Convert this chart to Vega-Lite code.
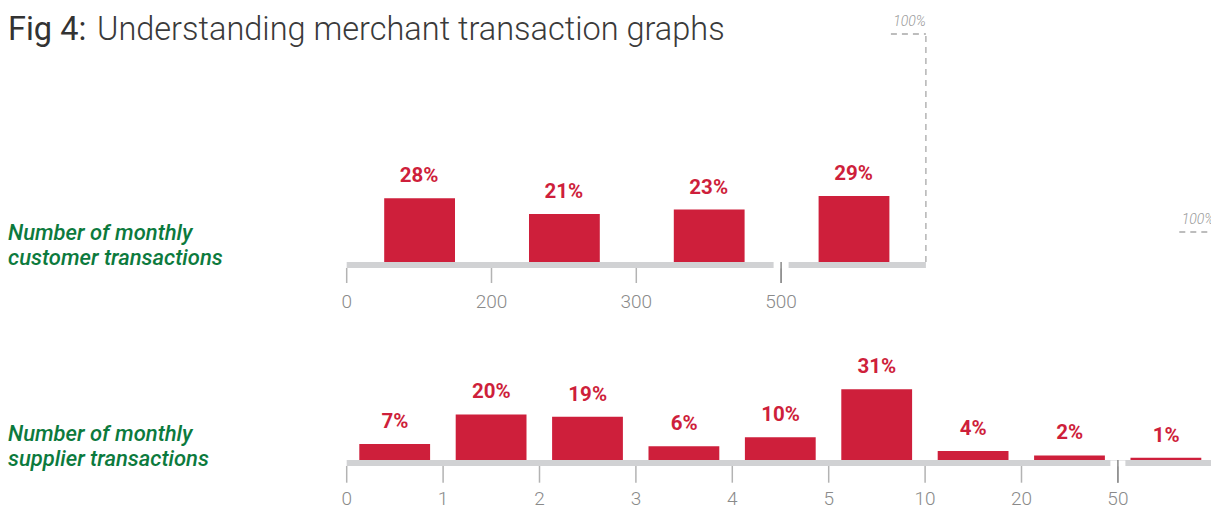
{
  "$schema": "https://vega.github.io/schema/vega-lite/v6.json",
  "width": 1211,
  "height": 509,
  "padding": 0,
  "autosize": {"type": "none"},
  "background": "white",
  "config": {"view": {"stroke": null}, "font": "Roboto"},
  "datasets": {
    "figLabel": [{"text": "Fig 4:"}],
    "figTitle": [{"text": "Understanding merchant transaction graphs"}],
    "customer": [
      {"range": "0-200", "start": 0, "end": 1, "pct": 0.28, "base": 0},
      {"range": "200-300", "start": 1, "end": 2, "pct": 0.21, "base": 0},
      {"range": "300-500", "start": 2, "end": 3, "pct": 0.23, "base": 0},
      {"range": "500+", "start": 3, "end": 4, "pct": 0.29, "base": 0}
    ],
    "customerEdges": [
      {"edge": 0, "label": "0", "base": 0},
      {"edge": 1, "label": "200", "base": 0},
      {"edge": 2, "label": "300", "base": 0},
      {"edge": 3, "label": "500", "base": 0}
    ],
    "customerFrame": [
      {"from": 0, "to": 4, "brk": 3, "base": 0, "full": 1, "name": "Number of monthly\ncustomer transactions"}
    ],
    "supplier": [
      {"range": "0-1", "start": 0, "end": 1, "pct": 0.07, "base": 0},
      {"range": "1-2", "start": 1, "end": 2, "pct": 0.20, "base": 0},
      {"range": "2-3", "start": 2, "end": 3, "pct": 0.19, "base": 0},
      {"range": "3-4", "start": 3, "end": 4, "pct": 0.06, "base": 0},
      {"range": "4-5", "start": 4, "end": 5, "pct": 0.10, "base": 0},
      {"range": "5-10", "start": 5, "end": 6, "pct": 0.31, "base": 0},
      {"range": "10-20", "start": 6, "end": 7, "pct": 0.04, "base": 0},
      {"range": "20-50", "start": 7, "end": 8, "pct": 0.02, "base": 0},
      {"range": "50+", "start": 8, "end": 9, "pct": 0.01, "base": 0}
    ],
    "supplierEdges": [
      {"edge": 0, "label": "0", "base": 0},
      {"edge": 1, "label": "1", "base": 0},
      {"edge": 2, "label": "2", "base": 0},
      {"edge": 3, "label": "3", "base": 0},
      {"edge": 4, "label": "4", "base": 0},
      {"edge": 5, "label": "5", "base": 0},
      {"edge": 6, "label": "10", "base": 0},
      {"edge": 7, "label": "20", "base": 0},
      {"edge": 8, "label": "50", "base": 0}
    ],
    "supplierFrame": [
      {"from": 0, "to": 9, "brk": 8, "base": 0, "full": 1, "name": "Number of monthly\nsupplier transactions"}
    ]
  },
  "layer": [
    {
      "layer": [
        {
          "data": {"name": "figLabel"},
          "mark": {"type": "text", "align": "left", "baseline": "alphabetic", "fontSize": 32.5, "fontWeight": 400, "color": "#333333"},
          "encoding": {
            "x": {"datum": -2.339, "type": "quantitative", "scale": {"domain": [-2.3943, 5.9689], "nice": false, "zero": false}, "axis": null},
            "y": {"datum": 0.9737, "type": "quantitative", "scale": {"domain": [-1.0833, 1.1491], "nice": false, "zero": false}, "axis": null},
            "text": {"field": "text", "type": "nominal"}
          }
        },
        {
          "data": {"name": "figTitle"},
          "mark": {"type": "text", "align": "left", "baseline": "alphabetic", "fontSize": 32.5, "fontWeight": 300, "color": "#3a3a3a"},
          "encoding": {
            "x": {"datum": -1.7244, "type": "quantitative", "scale": {"domain": [-2.3943, 5.9689], "nice": false, "zero": false}, "axis": null},
            "y": {"datum": 0.9737, "type": "quantitative", "scale": {"domain": [-1.0833, 1.1491], "nice": false, "zero": false}, "axis": null},
            "text": {"field": "text", "type": "nominal"}
          }
        },
        {
          "data": {"name": "customerFrame"},
          "mark": {"type": "rule", "color": "#d1d2d4", "strokeWidth": 6, "yOffset": 3, "strokeCap": "butt"},
          "encoding": {
            "x": {"field": "from", "type": "quantitative", "scale": {"domain": [-2.3943, 5.9689], "nice": false, "zero": false}, "axis": null},
            "x2": {"field": "to"},
            "y": {"field": "base", "type": "quantitative", "scale": {"domain": [-1.0833, 1.1491], "nice": false, "zero": false}, "axis": null}
          }
        },
        {
          "data": {"name": "customer"},
          "mark": {"type": "bar", "color": "#ce1f3b", "xOffset": 37.5, "x2Offset": -36.5},
          "encoding": {
            "x": {"field": "start", "type": "quantitative", "scale": {"domain": [-2.3943, 5.9689], "nice": false, "zero": false}, "axis": null},
            "x2": {"field": "end"},
            "y": {"field": "pct", "type": "quantitative", "scale": {"domain": [-1.0833, 1.1491], "nice": false, "zero": false}, "axis": null},
            "y2": {"field": "base"}
          }
        },
        {
          "data": {"name": "customerEdges"},
          "mark": {"type": "rule", "color": "#b3b3b3", "strokeWidth": 1.5, "yOffset": 6, "y2Offset": 21, "strokeCap": "butt"},
          "encoding": {
            "x": {"field": "edge", "type": "quantitative", "scale": {"domain": [-2.3943, 5.9689], "nice": false, "zero": false}, "axis": null},
            "y": {"field": "base", "type": "quantitative", "scale": {"domain": [-1.0833, 1.1491], "nice": false, "zero": false}, "axis": null},
            "y2": {"field": "base"}
          }
        },
        {
          "data": {"name": "customerEdges"},
          "mark": {"type": "text", "align": "center", "baseline": "middle", "dy": 40, "fontSize": 19, "fontWeight": 300, "color": "#8a8a8a"},
          "encoding": {
            "x": {"field": "edge", "type": "quantitative", "scale": {"domain": [-2.3943, 5.9689], "nice": false, "zero": false}, "axis": null},
            "y": {"field": "base", "type": "quantitative", "scale": {"domain": [-1.0833, 1.1491], "nice": false, "zero": false}, "axis": null},
            "text": {"field": "label", "type": "nominal"}
          }
        },
        {
          "data": {"name": "customerFrame"},
          "mark": {"type": "rule", "color": "white", "strokeWidth": 15, "yOffset": -1, "y2Offset": 6.5, "strokeCap": "butt"},
          "encoding": {
            "x": {"field": "brk", "type": "quantitative", "scale": {"domain": [-2.3943, 5.9689], "nice": false, "zero": false}, "axis": null},
            "y": {"field": "base", "type": "quantitative", "scale": {"domain": [-1.0833, 1.1491], "nice": false, "zero": false}, "axis": null},
            "y2": {"field": "base"}
          }
        },
        {
          "data": {"name": "customerFrame"},
          "mark": {"type": "rule", "color": "#8a8a8a", "strokeWidth": 1.5, "yOffset": 0, "y2Offset": 21, "strokeCap": "butt"},
          "encoding": {
            "x": {"field": "brk", "type": "quantitative", "scale": {"domain": [-2.3943, 5.9689], "nice": false, "zero": false}, "axis": null},
            "y": {"field": "base", "type": "quantitative", "scale": {"domain": [-1.0833, 1.1491], "nice": false, "zero": false}, "axis": null},
            "y2": {"field": "base"}
          }
        },
        {
          "data": {"name": "customerFrame"},
          "mark": {"type": "rule", "color": "#a8a8a8", "strokeWidth": 1.3, "strokeDash": [6, 5]},
          "encoding": {
            "x": {"field": "to", "type": "quantitative", "scale": {"domain": [-2.3943, 5.9689], "nice": false, "zero": false}, "axis": null},
            "y": {"field": "base", "type": "quantitative", "scale": {"domain": [-1.0833, 1.1491], "nice": false, "zero": false}, "axis": null},
            "y2": {"field": "full"}
          }
        },
        {
          "data": {"name": "customerFrame"},
          "mark": {"type": "rule", "color": "#a8a8a8", "strokeWidth": 1.3, "strokeDash": [6, 5], "xOffset": -35},
          "encoding": {
            "x": {"field": "to", "type": "quantitative", "scale": {"domain": [-2.3943, 5.9689], "nice": false, "zero": false}, "axis": null},
            "x2": {"field": "to"},
            "y": {"field": "full", "type": "quantitative", "scale": {"domain": [-1.0833, 1.1491], "nice": false, "zero": false}, "axis": null}
          }
        },
        {
          "data": {"name": "customerFrame"},
          "mark": {"type": "text", "align": "right", "baseline": "middle", "dy": -12, "fontStyle": "italic", "fontWeight": 300, "fontSize": 14, "color": "#999999"},
          "encoding": {
            "x": {"field": "to", "type": "quantitative", "scale": {"domain": [-2.3943, 5.9689], "nice": false, "zero": false}, "axis": null},
            "y": {"field": "full", "type": "quantitative", "scale": {"domain": [-1.0833, 1.1491], "nice": false, "zero": false}, "axis": null},
            "text": {"field": "full", "type": "quantitative", "format": ".0%"}
          }
        },
        {
          "data": {"name": "customerFrame"},
          "mark": {"type": "text", "align": "left", "baseline": "alphabetic", "lineBreak": "\n", "lineHeight": 25, "fontStyle": "italic", "fontWeight": 500, "fontSize": 22, "color": "#0c7a3d"},
          "encoding": {
            "x": {"datum": -2.339, "type": "quantitative", "scale": {"domain": [-2.3943, 5.9689], "nice": false, "zero": false}, "axis": null},
            "y": {"datum": 0.0965, "type": "quantitative", "scale": {"domain": [-1.0833, 1.1491], "nice": false, "zero": false}, "axis": null},
            "text": {"field": "name", "type": "nominal"}
          }
        },
        {
          "data": {"name": "customer"},
          "mark": {"type": "text", "align": "center", "baseline": "middle", "dy": -22, "xOffset": 72.4, "fontWeight": "bold", "fontSize": 20.5, "color": "#ce1f3b"},
          "encoding": {
            "x": {"field": "start", "type": "quantitative", "scale": {"domain": [-2.3943, 5.9689], "nice": false, "zero": false}, "axis": null},
            "y": {"field": "pct", "type": "quantitative", "scale": {"domain": [-1.0833, 1.1491], "nice": false, "zero": false}, "axis": null},
            "text": {"field": "pct", "type": "quantitative", "format": ".0%"}
          }
        }
      ]
    },
    {
      "layer": [
        {
          "data": {"name": "supplierFrame"},
          "mark": {"type": "rule", "color": "#d1d2d4", "strokeWidth": 6, "yOffset": 3, "strokeCap": "butt"},
          "encoding": {
            "x": {"field": "from", "type": "quantitative", "scale": {"domain": [-3.5965, 8.9658], "nice": false, "zero": false}, "axis": null},
            "x2": {"field": "to"},
            "y": {"field": "base", "type": "quantitative", "scale": {"domain": [-0.2149, 2.0175], "nice": false, "zero": false}, "axis": null}
          }
        },
        {
          "data": {"name": "supplier"},
          "mark": {"type": "bar", "color": "#ce1f3b", "xOffset": 12.6, "x2Offset": -13},
          "encoding": {
            "x": {"field": "start", "type": "quantitative", "scale": {"domain": [-3.5965, 8.9658], "nice": false, "zero": false}, "axis": null},
            "x2": {"field": "end"},
            "y": {"field": "pct", "type": "quantitative", "scale": {"domain": [-0.2149, 2.0175], "nice": false, "zero": false}, "axis": null},
            "y2": {"field": "base"}
          }
        },
        {
          "data": {"name": "supplierEdges"},
          "mark": {"type": "rule", "color": "#b3b3b3", "strokeWidth": 1.5, "yOffset": 6, "y2Offset": 22.7, "strokeCap": "butt"},
          "encoding": {
            "x": {"field": "edge", "type": "quantitative", "scale": {"domain": [-3.5965, 8.9658], "nice": false, "zero": false}, "axis": null},
            "y": {"field": "base", "type": "quantitative", "scale": {"domain": [-0.2149, 2.0175], "nice": false, "zero": false}, "axis": null},
            "y2": {"field": "base"}
          }
        },
        {
          "data": {"name": "supplierEdges"},
          "mark": {"type": "text", "align": "center", "baseline": "middle", "dy": 38.5, "fontSize": 19, "fontWeight": 300, "color": "#8a8a8a"},
          "encoding": {
            "x": {"field": "edge", "type": "quantitative", "scale": {"domain": [-3.5965, 8.9658], "nice": false, "zero": false}, "axis": null},
            "y": {"field": "base", "type": "quantitative", "scale": {"domain": [-0.2149, 2.0175], "nice": false, "zero": false}, "axis": null},
            "text": {"field": "label", "type": "nominal"}
          }
        },
        {
          "data": {"name": "supplierFrame"},
          "mark": {"type": "rule", "color": "white", "strokeWidth": 15, "yOffset": 0.5, "y2Offset": 6.5, "strokeCap": "butt"},
          "encoding": {
            "x": {"field": "brk", "type": "quantitative", "scale": {"domain": [-3.5965, 8.9658], "nice": false, "zero": false}, "axis": null},
            "y": {"field": "base", "type": "quantitative", "scale": {"domain": [-0.2149, 2.0175], "nice": false, "zero": false}, "axis": null},
            "y2": {"field": "base"}
          }
        },
        {
          "data": {"name": "supplierFrame"},
          "mark": {"type": "rule", "color": "#8a8a8a", "strokeWidth": 1.5, "yOffset": 0, "y2Offset": 22.7, "strokeCap": "butt"},
          "encoding": {
            "x": {"field": "brk", "type": "quantitative", "scale": {"domain": [-3.5965, 8.9658], "nice": false, "zero": false}, "axis": null},
            "y": {"field": "base", "type": "quantitative", "scale": {"domain": [-0.2149, 2.0175], "nice": false, "zero": false}, "axis": null},
            "y2": {"field": "base"}
          }
        },
        {
          "data": {"name": "supplierFrame"},
          "mark": {"type": "rule", "color": "#a8a8a8", "strokeWidth": 1.3, "strokeDash": [6, 5]},
          "encoding": {
            "x": {"field": "to", "type": "quantitative", "scale": {"domain": [-3.5965, 8.9658], "nice": false, "zero": false}, "axis": null},
            "y": {"field": "base", "type": "quantitative", "scale": {"domain": [-0.2149, 2.0175], "nice": false, "zero": false}, "axis": null},
            "y2": {"field": "full"}
          }
        },
        {
          "data": {"name": "supplierFrame"},
          "mark": {"type": "rule", "color": "#a8a8a8", "strokeWidth": 1.3, "strokeDash": [6, 5], "xOffset": -35},
          "encoding": {
            "x": {"field": "to", "type": "quantitative", "scale": {"domain": [-3.5965, 8.9658], "nice": false, "zero": false}, "axis": null},
            "x2": {"field": "to"},
            "y": {"field": "full", "type": "quantitative", "scale": {"domain": [-0.2149, 2.0175], "nice": false, "zero": false}, "axis": null}
          }
        },
        {
          "data": {"name": "supplierFrame"},
          "mark": {"type": "text", "align": "right", "baseline": "middle", "dy": -12, "fontStyle": "italic", "fontWeight": 300, "fontSize": 14, "color": "#999999"},
          "encoding": {
            "x": {"field": "to", "type": "quantitative", "scale": {"domain": [-3.5965, 8.9658], "nice": false, "zero": false}, "axis": null},
            "y": {"field": "full", "type": "quantitative", "scale": {"domain": [-0.2149, 2.0175], "nice": false, "zero": false}, "axis": null},
            "text": {"field": "full", "type": "quantitative", "format": ".0%"}
          }
        },
        {
          "data": {"name": "supplierFrame"},
          "mark": {"type": "text", "align": "left", "baseline": "alphabetic", "lineBreak": "\n", "lineHeight": 25, "fontStyle": "italic", "fontWeight": 500, "fontSize": 22, "color": "#0c7a3d"},
          "encoding": {
            "x": {"datum": -3.5135, "type": "quantitative", "scale": {"domain": [-3.5965, 8.9658], "nice": false, "zero": false}, "axis": null},
            "y": {"datum": 0.0833, "type": "quantitative", "scale": {"domain": [-0.2149, 2.0175], "nice": false, "zero": false}, "axis": null},
            "text": {"field": "name", "type": "nominal"}
          }
        },
        {
          "data": {"name": "supplier"},
          "mark": {"type": "text", "align": "center", "baseline": "middle", "dy": -22, "xOffset": 48.2, "fontWeight": "bold", "fontSize": 20.5, "color": "#ce1f3b"},
          "encoding": {
            "x": {"field": "start", "type": "quantitative", "scale": {"domain": [-3.5965, 8.9658], "nice": false, "zero": false}, "axis": null},
            "y": {"field": "pct", "type": "quantitative", "scale": {"domain": [-0.2149, 2.0175], "nice": false, "zero": false}, "axis": null},
            "text": {"field": "pct", "type": "quantitative", "format": ".0%"}
          }
        }
      ]
    }
  ],
  "resolve": {"scale": {"x": "independent", "y": "independent"}}
}
